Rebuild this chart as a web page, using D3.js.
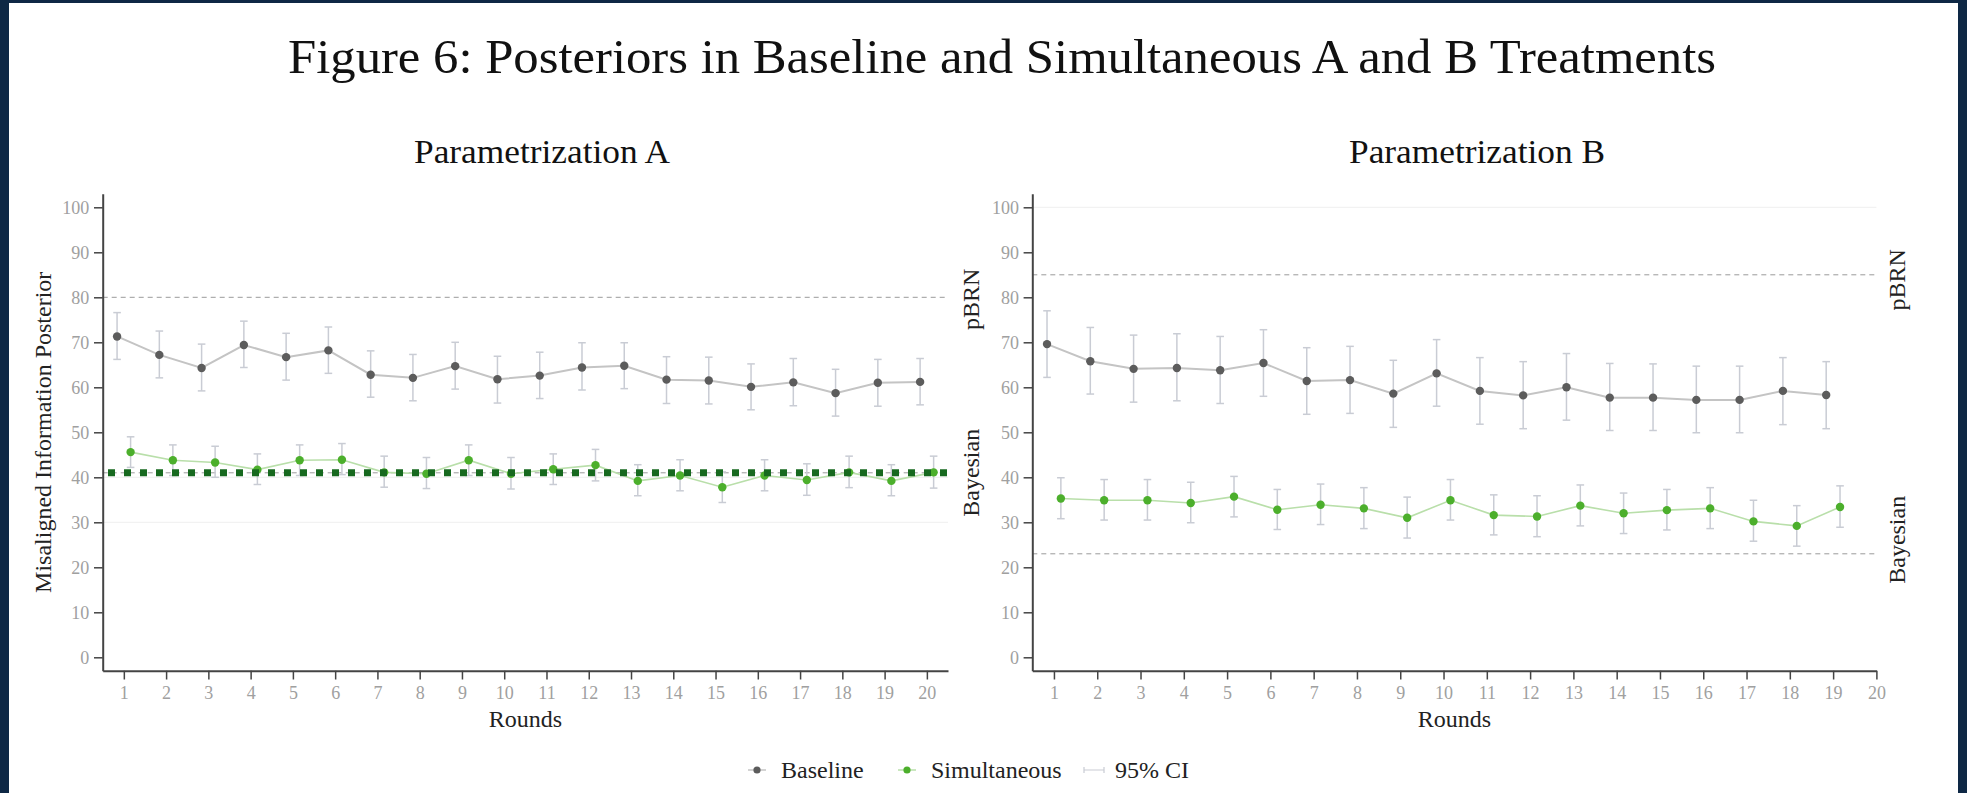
<!DOCTYPE html>
<html>
<head>
<meta charset="utf-8">
<script src="https://cdn.jsdelivr.net/npm/d3@7"></script>
<style>
  html, body { margin: 0; padding: 0; background: #0e2845; }
  svg { display: block; }
  text { font-family: "Liberation Serif", "DejaVu Serif", serif; }
</style>
</head>
<body>
<svg id="chart" width="1967" height="793"></svg>
<script>
// rounds
const roundsA = d3.range(1, 21);
const roundsB = d3.range(1, 20);
const yTicks = [0, 10, 20, 30, 40, 50, 60, 70, 80, 90, 100];

// Parametrization A
const baseA = [71.3, 67.2, 64.3, 69.4, 66.7, 68.2, 62.8, 62.1, 64.7, 61.8, 62.6, 64.4, 64.8, 61.7, 61.5, 60.1, 61.1, 58.7, 61.0, 61.2];
const baseALo = [66.2, 62.1, 59.2, 64.4, 61.6, 63.1, 57.8, 57.0, 59.6, 56.5, 57.5, 59.4, 59.7, 56.4, 56.3, 55.0, 55.9, 53.6, 55.8, 56.1];
const baseAHi = [76.6, 72.5, 69.6, 74.7, 72.0, 73.4, 68.1, 67.3, 70.0, 66.9, 67.8, 69.9, 69.9, 66.8, 66.7, 65.2, 66.4, 64.0, 66.2, 66.4];
const simA = [45.6, 43.8, 43.3, 41.7, 43.8, 43.9, 41.1, 40.8, 43.8, 40.8, 41.8, 42.7, 39.2, 40.4, 37.8, 40.4, 39.4, 41.1, 39.2, 41.1];
const simALo = [42.2, 40.4, 40.0, 38.4, 40.4, 40.6, 37.8, 37.5, 40.4, 37.4, 38.4, 39.2, 35.9, 37.0, 34.4, 37.0, 36.0, 37.7, 35.9, 37.6];
const simAHi = [49.0, 47.2, 46.9, 45.2, 47.2, 47.5, 44.7, 44.4, 47.2, 44.4, 45.2, 46.2, 42.8, 43.9, 41.2, 43.9, 43.0, 44.7, 42.8, 44.7];

// Parametrization B
const baseB = [69.6, 65.8, 64.1, 64.3, 63.8, 65.4, 61.4, 61.6, 58.6, 63.1, 59.2, 58.2, 60.0, 57.7, 57.7, 57.2, 57.2, 59.2, 58.3];
const baseBLo = [62.2, 58.5, 56.7, 57.0, 56.4, 58.0, 54.0, 54.2, 51.1, 55.8, 51.8, 50.8, 52.7, 50.4, 50.4, 49.9, 49.9, 51.7, 50.8];
const baseBHi = [77.0, 73.3, 71.6, 71.9, 71.3, 72.8, 68.8, 69.1, 66.0, 70.6, 66.6, 65.7, 67.5, 65.3, 65.2, 64.7, 64.7, 66.6, 65.7];
const simB = [35.3, 34.9, 34.9, 34.3, 35.7, 32.8, 33.9, 33.1, 31.0, 34.9, 31.6, 31.3, 33.7, 32.0, 32.7, 33.1, 30.2, 29.2, 33.4];
const simBLo = [30.8, 30.5, 30.5, 29.9, 31.2, 28.4, 29.5, 28.6, 26.5, 30.5, 27.2, 26.8, 29.2, 27.5, 28.3, 28.6, 25.8, 24.7, 28.9];
const simBHi = [39.9, 39.5, 39.5, 38.9, 40.2, 37.3, 38.5, 37.7, 35.6, 39.5, 36.1, 35.9, 38.3, 36.5, 37.3, 37.7, 34.9, 33.7, 38.1];

// reference lines (pBRN / Bayesian)
const refNames = ["pBRN", "Bayesian"];
const refA = [80, 41];
const refB = [85, 23];
const targetA = 41;

const svg = d3.select("#chart");

// white page inside the dark frame
svg.append("rect")
  .attr("x", 9).attr("y", 3)
  .attr("width", 1949).attr("height", 790)
  .attr("fill", "#fff");

svg.append("text")
  .attr("x", 1002).attr("y", 73)
  .attr("text-anchor", "middle")
  .attr("font-size", 49)
  .attr("textLength", 1428)
  .attr("lengthAdjust", "spacingAndGlyphs")
  .attr("fill", "#111")
  .text("Figure 6: Posteriors in Baseline and Simultaneous A and B Treatments");

const COLORS = {
  axis: "#444",
  tick: "#a0a0a0",
  base: "#5c5c5c",
  baseLine: "#c4c4c4",
  sim: "#4caf2c",
  simLine: "#b9dfaa",
  ci: "#c9ccd4",
  ref: "#9a9a9a",
  target: "#17691f",
};

function drawPanel(p) {
  const x = d3.scaleLinear().domain(p.xDomain).range([p.left, p.right]);
  const y = d3.scaleLinear().domain([-3, 103]).range([670.8, 193.8]);
  const g = svg.append("g");

  // faint grid lines
  g.selectAll(".grid")
    .data(p.grid)
    .join("line")
    .attr("x1", x(p.xDomain[0])).attr("x2", x(p.xDomain[1]))
    .attr("y1", d => y(d)).attr("y2", d => y(d))
    .attr("stroke", "#efefef").attr("stroke-width", 1);

  // dashed reference lines
  g.selectAll(".ref")
    .data(p.refs)
    .join("line")
    .attr("x1", x(p.xDomain[0])).attr("x2", x(p.xDomain[1]))
    .attr("y1", d => y(d)).attr("y2", d => y(d))
    .attr("stroke", COLORS.ref).attr("stroke-width", 1)
    .attr("stroke-dasharray", "5 4");

  g.selectAll(".reflabel")
    .data(p.refs)
    .join("text")
    .attr("transform", (d, i) => `translate(${p.labelX}, ${y(d) + p.labelShift[i]}) rotate(-90)`)
    .attr("text-anchor", "middle")
    .attr("dy", "0.35em")
    .attr("font-size", 24)
    .attr("fill", "#222")
    .text((d, i) => refNames[i]);

  // one series: connecting line, 95% CI, markers
  function series(vals, lo, hi, shift, dotColor, lineColor, lineWidth) {
    const pts = p.rounds.map((r, i) => ({ r: r + shift, v: vals[i], lo: lo[i], hi: hi[i] }));
    g.append("path")
      .datum(pts)
      .attr("fill", "none")
      .attr("stroke", lineColor)
      .attr("stroke-width", lineWidth)
      .attr("d", d3.line().x(d => x(d.r)).y(d => y(d.v)));

    const ci = g.append("g").attr("stroke", COLORS.ci).attr("stroke-width", 1.5);
    ci.selectAll(".v").data(pts).join("line")
      .attr("x1", d => x(d.r)).attr("x2", d => x(d.r))
      .attr("y1", d => y(d.lo)).attr("y2", d => y(d.hi));
    ci.selectAll(".t").data(pts).join("line")
      .attr("x1", d => x(d.r) - 3.8).attr("x2", d => x(d.r) + 3.8)
      .attr("y1", d => y(d.hi)).attr("y2", d => y(d.hi));
    ci.selectAll(".b").data(pts).join("line")
      .attr("x1", d => x(d.r) - 3.8).attr("x2", d => x(d.r) + 3.8)
      .attr("y1", d => y(d.lo)).attr("y2", d => y(d.lo));

    g.selectAll(null).data(pts).join("circle")
      .attr("cx", d => x(d.r)).attr("cy", d => y(d.v))
      .attr("r", 4.2)
      .attr("fill", dotColor);
  }

  series(p.base, p.baseLo, p.baseHi, -0.16, COLORS.base, COLORS.baseLine, 2);
  series(p.sim, p.simLo, p.simHi, 0.16, COLORS.sim, COLORS.simLine, 1.6);

  // thick dotted target line
  if (p.target != null) {
    g.append("line")
      .attr("x1", x(p.xDomain[0])).attr("x2", x(p.xDomain[1]))
      .attr("y1", y(p.target)).attr("y2", y(p.target))
      .attr("stroke", COLORS.target)
      .attr("stroke-width", 7)
      .attr("stroke-dasharray", "7 9")
      .attr("stroke-dashoffset", 10.7);
  }

  // axes
  const yAxis = d3.axisLeft(y).tickValues(yTicks).tickSize(8.7).tickSizeOuter(0).tickPadding(4.7);
  const xAxis = d3.axisBottom(x).tickValues(roundsA).tickSize(8.7).tickSizeOuter(0).tickPadding(7);

  const ya = g.append("g").attr("transform", `translate(${p.left},0)`).call(yAxis);
  const xa = g.append("g").attr("transform", `translate(0,${y(-3)})`).call(xAxis);

  [ya, xa].forEach(a => {
    a.select(".domain").attr("stroke", COLORS.axis).attr("stroke-width", 2);
    a.selectAll(".tick line").attr("stroke", COLORS.axis).attr("stroke-width", 1.5);
    a.selectAll(".tick text")
      .attr("fill", COLORS.tick)
      .attr("font-size", 18)
      .attr("font-family", "Liberation Serif, serif");
  });

  // titles
  svg.append("text")
    .attr("x", p.titleX).attr("y", 163)
    .attr("text-anchor", "middle")
    .attr("font-size", 34)
    .attr("textLength", 256)
    .attr("lengthAdjust", "spacingAndGlyphs")
    .attr("fill", "#111")
    .text(p.title);

  svg.append("text")
    .attr("x", (p.left + p.right) / 2).attr("y", 727)
    .attr("text-anchor", "middle")
    .attr("font-size", 24)
    .attr("fill", "#222")
    .text("Rounds");

  if (p.yTitle) {
    svg.append("text")
      .attr("transform", `translate(43, ${y(50)}) rotate(-90)`)
      .attr("text-anchor", "middle")
      .attr("dy", "0.35em")
      .attr("font-size", 24)
      .attr("fill", "#222")
      .text(p.yTitle);
  }
}

drawPanel({
  left: 102.7, right: 948, xDomain: [0.5, 20.5],
  rounds: roundsA,
  base: baseA, baseLo: baseALo, baseHi: baseAHi,
  sim: simA, simLo: simALo, simHi: simAHi,
  refs: refA, grid: [30, 40], target: targetA,
  labelX: 971, labelShift: [2, 0],
  title: "Parametrization A", titleX: 542,
  yTitle: "Misaligned Information Posterior",
});

drawPanel({
  left: 1032.3, right: 1876.4, xDomain: [0.5, 20],
  rounds: roundsB,
  base: baseB, baseLo: baseBLo, baseHi: baseBHi,
  sim: simB, simLo: simBLo, simHi: simBHi,
  refs: refB, grid: [100], target: null,
  labelX: 1897, labelShift: [5, -14],
  title: "Parametrization B", titleX: 1477,
  yTitle: null,
});

// legend
const legendItems = ["Baseline", "Simultaneous", "95% CI"];
const legendX = [757, 907, 1094];
const legendY = 770;
const lg = svg.append("g");

legendItems.forEach((name, i) => {
  const cx = legendX[i];
  if (i < 2) {
    lg.append("line")
      .attr("x1", cx - 9).attr("x2", cx + 9)
      .attr("y1", legendY).attr("y2", legendY)
      .attr("stroke", i === 0 ? COLORS.baseLine : COLORS.simLine).attr("stroke-width", 1.5);
    lg.append("circle")
      .attr("cx", cx).attr("cy", legendY).attr("r", 3.6)
      .attr("fill", i === 0 ? COLORS.base : COLORS.sim);
  } else {
    lg.append("path")
      .attr("d", `M${cx - 10},${legendY - 3}v6M${cx - 10},${legendY}h20M${cx + 10},${legendY - 3}v6`)
      .attr("fill", "none")
      .attr("stroke", COLORS.ci).attr("stroke-width", 1.2);
  }
  lg.append("text")
    .attr("x", cx + (i < 2 ? 24 : 21)).attr("y", legendY)
    .attr("dy", "0.33em")
    .attr("font-size", 24)
    .attr("fill", "#222")
    .text(name);
});
</script>
</body>
</html>
